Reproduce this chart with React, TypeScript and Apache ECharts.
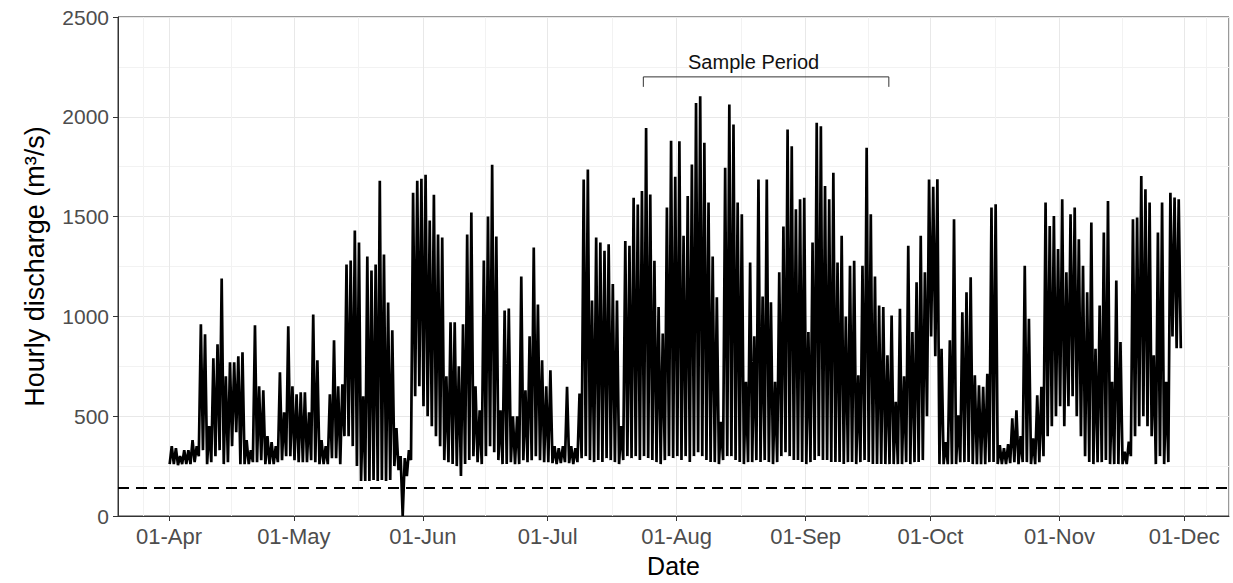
import React, { useEffect, useRef } from "react";
import * as echarts from "echarts";

// ---------- data (daily trough / peak of the hourly discharge, m3/s) ----------
const YEAR = 2017;
const monthIndices = [3, 4, 5, 6, 7, 8, 9, 10]; // Apr .. Nov

const aprPeak = [350, 340, 300, 330, 330, 380, 350, 960, 910, 450, 790, 860, 1190, 700, 770, 770, 800, 820, 380, 330, 955, 650, 630, 400, 370, 350, 720, 520, 950, 650];
const aprTrough = [260, 260, 255, 260, 260, 260, 270, 300, 330, 260, 270, 300, 330, 260, 270, 350, 420, 260, 260, 260, 270, 270, 280, 260, 260, 260, 270, 280, 300, 300];

const mayPeak = [610, 620, 620, 520, 1010, 780, 380, 350, 610, 880, 650, 660, 1260, 1280, 1430, 1370, 600, 1300, 1230, 1260, 1680, 1310, 1070, 930, 440, 300, 290, 330, 1620, 1680, 1690];
const mayTrough = [280, 270, 270, 270, 280, 270, 260, 260, 260, 290, 290, 260, 400, 400, 350, 250, 175, 175, 175, 180, 175, 180, 175, 180, 250, 230, 0, 200, 280, 600, 650];

const junPeak = [1710, 1480, 1610, 1410, 1395, 700, 970, 970, 750, 960, 1410, 1520, 650, 530, 1280, 1500, 1760, 1400, 530, 1030, 1040, 500, 500, 1200, 630, 900, 1345, 1060, 780, 650];
const junTrough = [550, 500, 450, 400, 350, 280, 270, 260, 250, 200, 260, 280, 300, 270, 260, 300, 350, 320, 280, 260, 260, 270, 260, 260, 280, 270, 280, 300, 280, 270];

const julPeak = [730, 350, 340, 350, 647, 350, 340, 614, 1686, 1736, 1080, 1395, 1370, 1329, 1362, 1162, 1080, 450, 1378, 1354, 1595, 1561, 1628, 1944, 1611, 1279, 1047, 914, 1545, 1880, 1700];
const julTrough = [270, 265, 260, 265, 270, 265, 260, 270, 290, 300, 280, 270, 280, 270, 290, 280, 270, 260, 280, 300, 290, 300, 280, 300, 290, 280, 270, 260, 280, 300, 290];

const augPeak = [1878, 1404, 1603, 1761, 2069, 2103, 1870, 1570, 1300, 1096, 472, 1745, 2061, 1961, 1570, 1512, 672, 1270, 900, 1686, 1100, 1686, 1071, 672, 1221, 1450, 1936, 1853, 1537, 1587, 1595];
const augTrough = [300, 280, 300, 270, 300, 320, 300, 280, 270, 270, 260, 280, 300, 300, 280, 270, 260, 270, 270, 280, 270, 280, 270, 260, 270, 300, 320, 300, 280, 280, 270];

const sepPeak = [922, 1370, 1970, 1953, 1653, 1587, 1720, 1270, 1404, 1000, 1254, 1279, 705, 1254, 1845, 1512, 1200, 1055, 1047, 805, 1005, 572, 1038, 700, 1354, 922, 1171, 1404, 1221, 1686];
const sepTrough = [260, 270, 280, 300, 280, 280, 270, 270, 270, 260, 270, 270, 260, 270, 280, 270, 260, 260, 260, 260, 260, 260, 260, 260, 270, 260, 270, 270, 280, 500];

const octPeak = [1650, 1687, 838, 370, 880, 1487, 505, 1021, 1121, 1196, 705, 655, 647, 713, 1545, 1562, 355, 340, 360, 489, 530, 400, 1254, 988, 389, 605, 647, 1570, 1453, 1503, 1337];
const octTrough = [900, 800, 260, 260, 260, 260, 260, 270, 270, 270, 260, 260, 260, 260, 270, 270, 260, 260, 260, 265, 270, 260, 270, 270, 260, 260, 270, 300, 400, 450, 500];

const novPeak = [1587, 1221, 1512, 1545, 1387, 1254, 1121, 1470, 838, 1055, 1420, 1578, 672, 1180, 872, 322, 372, 1487, 1495, 1703, 1637, 1570, 805, 1420, 1570, 672, 1620, 1595, 1587];
const novTrough = [550, 450, 550, 600, 500, 400, 300, 270, 260, 270, 270, 280, 260, 260, 260, 260, 260, 300, 400, 450, 500, 450, 400, 260, 300, 260, 270, 900, 840, 840];

const monthlyPeaks = [aprPeak, mayPeak, junPeak, julPeak, augPeak, sepPeak, octPeak, novPeak];
const monthlyTroughs = [aprTrough, mayTrough, junTrough, julTrough, augTrough, sepTrough, octTrough, novTrough];

const monthNames = ["Jan", "Feb", "Mar", "Apr", "May", "Jun", "Jul", "Aug", "Sep", "Oct", "Nov", "Dec"];
const yTickValues = [0, 500, 1000, 1500, 2000, 2500];
const minimumFlow = 140;
const sampleStart = [YEAR, 6, 24];
const sampleEnd = [YEAR, 8, 21];
const sampleLabelDate = [YEAR, 7, 19, 12];
const sampleBracketTop = 2200;
const sampleBracketFoot = 2150;
const sampleLabelValue = 2275;
const sampleLabel = "Sample Period";

// ---------- build series ----------
const t = (a: number[]) => new Date(a[0], a[1], a[2], a[3] || 0).getTime();

const hourly: [number, number][] = [];
monthIndices.forEach((m, k) => {
  const tr = monthlyTroughs[k];
  const pk = monthlyPeaks[k];
  for (let i = 0; i < tr.length; i++) {
    hourly.push([new Date(YEAR, m, i + 1, 4).getTime(), tr[i]]);
    if (i < pk.length) hourly.push([new Date(YEAR, m, i + 1, 16).getTime(), pk[i]]);
  }
});

const bracket: [number, number][] = [
  [t(sampleStart), sampleBracketFoot],
  [t(sampleStart), sampleBracketTop],
  [t(sampleEnd), sampleBracketTop],
  [t(sampleEnd), sampleBracketFoot],
];

const FONT = "'Liberation Sans', Arial, Helvetica, sans-serif";

export default function App() {
  const ref = useRef<HTMLDivElement>(null);
  useEffect(() => {
    if (!ref.current) return;
    const chart = echarts.init(ref.current, undefined, { renderer: "svg" });
    chart.setOption({
      animation: false,
      backgroundColor: "#fff",
      textStyle: { fontFamily: FONT },
      grid: {
        left: 118,
        right: 4,
        top: 17,
        bottom: 63,
        show: true,
        borderColor: "#333",
        borderWidth: 1,
        backgroundColor: "transparent",
      },
      xAxis: {
        type: "time",
        min: new Date(YEAR, 2, 19, 18).getTime(),
        max: new Date(YEAR, 11, 11, 18).getTime(),
        splitNumber: 10,
        minInterval: 28 * 86400000,
        maxInterval: 31 * 86400000,
        name: "Date",
        nameLocation: "middle",
        nameGap: 37,
        nameTextStyle: { fontSize: 25, color: "#000", fontFamily: FONT },
        axisLine: { show: true, lineStyle: { color: "#333", width: 1 } },
        axisTick: { show: true, length: 5, lineStyle: { color: "#333" } },
        axisLabel: {
          fontSize: 22,
          color: "#4d4d4d",
          margin: 9,
          fontFamily: FONT,
          hideOverlap: false,
          formatter: (v: number) => {
            const d = new Date(v);
            const dd = String(d.getDate()).padStart(2, "0");
            return dd + "-" + monthNames[d.getMonth()];
          },
        },
        splitLine: { show: true, lineStyle: { color: "#e8e8e8", width: 1 } },
        minorTick: { show: false, splitNumber: 2 },
        minorSplitLine: { show: true, lineStyle: { color: "#f2f2f2", width: 1 } },
      },
      yAxis: {
        type: "value",
        min: yTickValues[0],
        max: yTickValues[yTickValues.length - 1],
        interval: 500,
        name: "Hourly discharge (m³/s)",
        nameLocation: "middle",
        nameGap: 70,
        nameTextStyle: { fontSize: 27, color: "#000", fontFamily: FONT },
        axisLine: { show: true, lineStyle: { color: "#333", width: 1 } },
        axisTick: { show: true, length: 5, lineStyle: { color: "#333" } },
        axisLabel: {
          fontSize: 21,
          color: "#4d4d4d",
          margin: 9,
          fontFamily: FONT,
          formatter: (v: number) => String(v),
        },
        splitLine: { show: true, lineStyle: { color: "#e8e8e8", width: 1 } },
        minorTick: { show: false, splitNumber: 2 },
        minorSplitLine: { show: true, lineStyle: { color: "#f2f2f2", width: 1 } },
      },
      series: [
        {
          name: "Hourly discharge",
          type: "line",
          data: hourly,
          symbol: "none",
          showSymbol: false,
          lineStyle: { color: "#000", width: 2.7, join: "miter" },
          z: 3,
          markLine: {
            silent: true,
            symbol: "none",
            label: { show: false },
            lineStyle: { color: "#000", type: [11, 7], width: 2.2 },
            data: [{ yAxis: minimumFlow }],
          },
        },
        {
          name: "Sample period",
          type: "line",
          data: bracket,
          symbol: "none",
          showSymbol: false,
          lineStyle: { color: "#333", width: 1 },
          z: 4,
          markPoint: {
            silent: true,
            symbol: "circle",
            symbolSize: 0,
            label: {
              show: true,
              position: "inside",
              formatter: sampleLabel,
              color: "#111",
              fontSize: 20,
              fontFamily: FONT,
            },
            data: [{ coord: [t(sampleLabelDate), sampleLabelValue] }],
          },
        },
      ],
    });
    return () => chart.dispose();
  }, []);

  return (
    <div
      ref={ref}
      style={{ position: "fixed", left: 0, top: 0, width: 1233, height: 583, background: "#fff" }}
    />
  );
}
